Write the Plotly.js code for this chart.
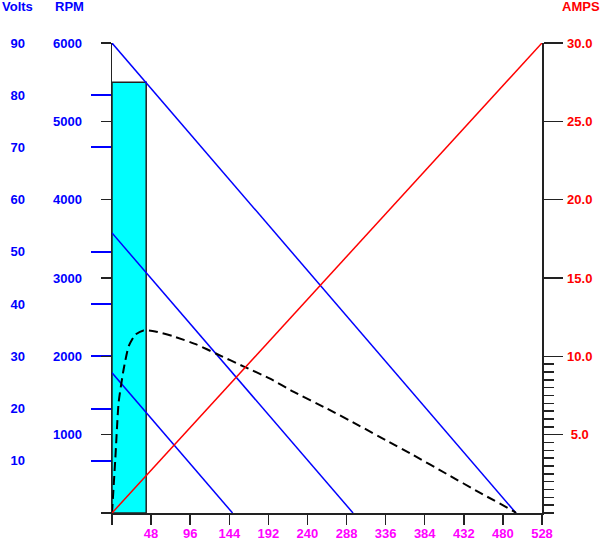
<!DOCTYPE html>
<html>
<head>
<meta charset="utf-8">
<script src="https://cdn.plot.ly/plotly-3.0.1.min.js"></script>
<style>html,body{margin:0;padding:0;background:#fff;}#chart{width:600px;height:541px;}</style>
</head>
<body>
<div id="chart"></div>
<script>
// ---- data ----
const xTickVals = [0, 48, 96, 144, 192, 240, 288, 336, 384, 432, 480, 528];
const xTickText = ['', '48', '96', '144', '192', '240', '288', '336', '384', '432', '480', '528'];
const rpmTickVals = [0, 1000, 2000, 3000, 4000, 5000, 6000];
const rpmTickText = ['', '1000', '2000', '3000', '4000', '5000', '6000'];
const voltLabelVals = [10, 20, 30, 40, 50, 60, 70, 80, 90];
const voltTickVals = [10, 20, 30, 40, 50, 70, 80];
const ampTickVals = [5, 10, 15, 20, 25, 30];
const ampTickText = ['\u20085.0', '10.0', '15.0', '20.0', '25.0', '30.0'];
const ampMinorVals = [0, 0.5, 1, 1.5, 2, 2.5, 3, 3.5, 4, 4.5, 5, 5.5, 6, 6.5, 7, 7.5, 8, 8.5, 9, 9.5];

const barStart = 0, barEnd = 42, barRPM = 5500;

const line1X = [0, 496], line1RPM = [6000, 0];
const line2X = [0, 296], line2RPM = [3575, 0];
const line3X = [0, 148], line3RPM = [1790, 0];

const ampsX = [0, 528], ampsY = [0, 30];

const curveX = [0, 4, 8.1, 14.2, 20.4, 28.6, 38.7, 53.1, 75.5, 104.2, 128.7, 161.3, 194.1, 222.6, 263.6, 304.4, 337.1, 369.7, 410.7, 451.5, 494.4, 496];
const curveY = [0, 680, 1408, 1829, 2127, 2276, 2331, 2318, 2255, 2149, 2030, 1872, 1715, 1550, 1335, 1110, 925, 740, 500, 260, 15, 0];

// ---- styling ----
const F = 'Liberation Sans, Arial, Helvetica, sans-serif';
const BLUE = '#0000ff', RED = '#ff0000', MAG = '#ff00ff', AX = '#222222';

const ghost = (ax) => ({type: 'scatter', mode: 'markers', x: [0], y: [0], yaxis: ax,
                        marker: {opacity: 0, size: 1}, hoverinfo: 'skip'});

const traces = [
  {type: 'bar', x: [(barStart + barEnd) / 2], width: [barEnd - barStart], y: [barRPM],
   marker: {color: '#00ffff', line: {color: AX, width: 1.5}}, xaxis: 'x', yaxis: 'y', hoverinfo: 'skip'},
  {type: 'scatter', mode: 'lines', x: line1X, y: line1RPM, line: {color: BLUE, width: 1.5}, yaxis: 'y'},
  {type: 'scatter', mode: 'lines', x: line2X, y: line2RPM, line: {color: BLUE, width: 1.5}, yaxis: 'y'},
  {type: 'scatter', mode: 'lines', x: line3X, y: line3RPM, line: {color: BLUE, width: 1.5}, yaxis: 'y'},
  {type: 'scatter', mode: 'lines', x: curveX, y: curveY, line: {color: '#000', width: 2, dash: '9px,5px', shape: 'spline', smoothing: 0.5}, yaxis: 'y'},
  ghost('y2'), ghost('y3'), ghost('y5'), ghost('y6'),
  {type: 'scatter', mode: 'lines', x: ampsX, y: ampsY, line: {color: RED, width: 1.5}, yaxis: 'y4'}
];

const tf = (c) => ({family: F, size: 13, color: c, weight: 'bold'});

const layout = {
  width: 600, height: 541,
  margin: {l: 112, r: 58, t: 43, b: 28, pad: 0},
  paper_bgcolor: '#fff', plot_bgcolor: '#fff',
  showlegend: false,
  bargap: 0,
  xaxis: {range: [0, 528], tickmode: 'array', tickvals: xTickVals, ticktext: xTickText,
          ticks: 'outside', ticklen: 10, tickwidth: 1.5, tickcolor: AX,
          showline: true, linecolor: AX, linewidth: 1.5, showgrid: false, zeroline: false,
          tickfont: tf(MAG), ticklabelstandoff: -2},
  yaxis: {range: [0, 6000], tickmode: 'array', tickvals: rpmTickVals, ticktext: rpmTickText,
          ticks: 'outside', ticklen: 10, tickwidth: 1.5, tickcolor: AX,
          showline: true, linecolor: AX, linewidth: 1.5, showgrid: false, zeroline: false,
          tickfont: tf(BLUE), ticklabelstandoff: 16},
  yaxis2: {overlaying: 'y', anchor: 'x', side: 'left', range: [0, 90], tickmode: 'array',
           tickvals: voltLabelVals, ticks: '', showline: false, showgrid: false, zeroline: false,
           tickfont: tf(BLUE), ticklabelstandoff: 86},
  yaxis3: {overlaying: 'y', anchor: 'x', side: 'left', range: [0, 90], tickmode: 'array',
           tickvals: voltTickVals, ticks: 'outside', ticklen: 20, tickwidth: 2, tickcolor: BLUE,
           showticklabels: false, showline: false, showgrid: false, zeroline: false},
  yaxis4: {overlaying: 'y', anchor: 'x', side: 'right', range: [0, 30], tickmode: 'array',
           tickvals: ampTickVals, ticktext: ampTickText,
           ticks: 'outside', ticklen: 19, tickwidth: 1.5, tickcolor: AX,
           showline: true, linecolor: AX, linewidth: 1.5, showgrid: false, zeroline: false,
           tickfont: tf(RED), ticklabelstandoff: 2},
  yaxis5: {overlaying: 'y', anchor: 'x', side: 'right', range: [0, 30], tickmode: 'array',
           tickvals: ampMinorVals, ticks: 'outside', ticklen: 11, tickwidth: 1.5, tickcolor: AX,
           showticklabels: false, showline: false, showgrid: false, zeroline: false},
  yaxis6: {overlaying: 'y', anchor: 'x', side: 'left', range: [0, 6000], tickmode: 'array',
           tickvals: rpmTickVals, ticks: 'outside', ticklen: 10, tickwidth: 1.5, tickcolor: AX,
           showticklabels: false, showline: false, showgrid: false, zeroline: false},
  annotations: [
    {text: 'Volts', xref: 'paper', yref: 'paper', x: -112 / 430, y: (513 - 6.5) / 470, xanchor: 'left', yanchor: 'middle', showarrow: false, font: tf(BLUE)},
    {text: 'RPM', xref: 'paper', yref: 'paper', x: (69.5 - 112) / 430, y: (513 - 6.5) / 470, xanchor: 'center', yanchor: 'middle', showarrow: false, font: tf(BLUE)},
    {text: 'AMPS', xref: 'paper', yref: 'paper', x: (580.5 - 112) / 430, y: (513 - 6.5) / 470, xanchor: 'center', yanchor: 'middle', showarrow: false, font: tf(RED)}
  ]
};

Plotly.newPlot('chart', traces, layout, {staticPlot: true, displayModeBar: false});
</script>
</body>
</html>
